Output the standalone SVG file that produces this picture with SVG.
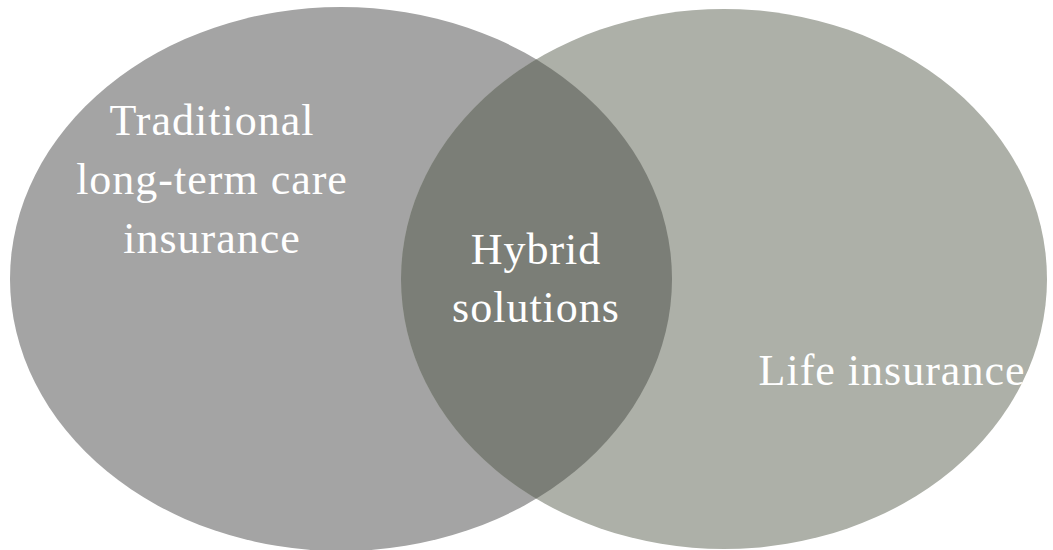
<svg xmlns="http://www.w3.org/2000/svg" width="1053" height="550" viewBox="0 0 1053 550">
  <style>
    .lbl { font-family: "Liberation Serif", "DejaVu Serif", serif; font-size: 44px; fill: #ffffff; text-anchor: middle; letter-spacing: 1px; }
  </style>
  <defs>
    <clipPath id="clipLeft">
      <ellipse cx="341" cy="279" rx="331" ry="272"/>
    </clipPath>
  </defs>
  <rect width="1053" height="550" fill="#ffffff"/>
  <g id="traditional">
    <ellipse cx="341" cy="279" rx="331" ry="272" fill="#a4a4a4"/>
  </g>
  <g id="life">
    <ellipse cx="724" cy="279" rx="323" ry="270" fill="#adb0a8"/>
  </g>
  <g id="hybrid">
    <ellipse cx="724" cy="279" rx="323" ry="270" fill="#7b7e77" clip-path="url(#clipLeft)"/>
  </g>
  <g id="connectors"></g>
  <g id="labels">
    <text class="lbl" x="212" y="135">Traditional</text>
    <text class="lbl" x="212" y="194">long-term care</text>
    <text class="lbl" x="212" y="253">insurance</text>
    <text class="lbl" x="536" y="264">Hybrid</text>
    <text class="lbl" x="536" y="322">solutions</text>
    <text class="lbl" x="892" y="385">Life insurance</text>
  </g>
</svg>
